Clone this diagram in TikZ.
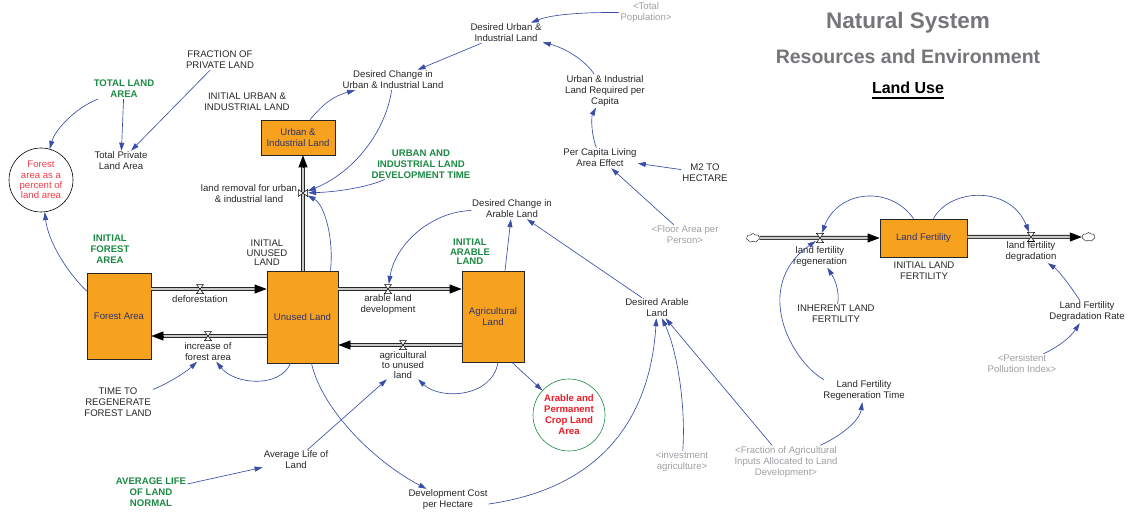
\documentclass[tikz,border=0pt]{standalone}
\usepackage{fontspec}
\setmainfont{Liberation Sans}
\usetikzlibrary{arrows.meta,calc,shapes.symbols,shadows}

\definecolor{stockfill}{RGB}{246,162,30}
\definecolor{linkblue}{RGB}{58,78,168}
\definecolor{varcol}{RGB}{40,40,40}
\definecolor{constgreen}{RGB}{28,138,68}
\definecolor{alertred}{RGB}{236,30,40}
\definecolor{softred}{RGB}{240,62,72}
\definecolor{shadowgray}{RGB}{160,160,165}
\definecolor{titlegray}{RGB}{118,118,122}
\definecolor{stocktext}{RGB}{45,50,110}
\definecolor{shadowvar}{RGB}{160,160,165}
\definecolor{pipefill}{RGB}{200,200,200}

\newcommand\varfnt{\fontsize{9.6}{11}\selectfont}
\newcommand\tightfnt{\fontsize{9.6}{9.6}\selectfont}

\begin{document}
\begin{tikzpicture}[x={(1pt,0)}, y={(0,-1pt)},
  var/.style={align=center, font=\varfnt, text=varcol, inner sep=1pt},
  tightvar/.style={var, font=\tightfnt},
  const/.style={var, font=\varfnt\bfseries, text=constgreen},
  ghost/.style={var, text=shadowvar},
  stock/.style={draw=black!85, fill=stockfill, line width=0.8pt, align=center,
    font=\varfnt, text=stocktext, inner sep=1pt,
    drop shadow={shadow xshift=1.3pt, shadow yshift=-1.3pt, fill=shadowgray, opacity=1}},
  valvept/.style={circle, inner sep=0pt, minimum size=10pt},
  pipe/.style={draw=black!85, line width=0.9pt, double=pipefill, double distance=2.2pt},
  pipetip/.style={draw=black, line width=0.8pt, -{Triangle[length=12pt,width=9pt]}},
  link/.style={draw=linkblue, line width=0.65pt, -{Triangle[length=8pt,width=5pt]}},
  valveline/.style={draw=black, fill=white, line width=0.5pt},
  sourcecloud/.style={cloud, cloud puffs=7, cloud puff arc=120, aspect=1.4, draw=black!80,
    line width=0.5pt, fill=white, minimum width=13pt, minimum height=9pt, inner sep=0pt},
  pics/vh/.style={code={\draw[valveline] (-3.5,-4.5) -- (3.5,-4.5) -- (-3.5,4.5) -- (3.5,4.5) -- cycle;}},
  pics/vv/.style={code={\draw[valveline] (-4.5,-3.5) -- (-4.5,3.5) -- (4.5,-3.5) -- (4.5,3.5) -- cycle;}}
]
\useasboundingbox (0,0) rectangle (1127,513);
\fill[white] (0,0) rectangle (1127,513);

% ---------- titles ----------
\node[font=\fontsize{22.5}{26}\selectfont\bfseries, text=titlegray] (ttlA) at (908,23) {Natural System};
\node[font=\fontsize{19.5}{23}\selectfont\bfseries, text=titlegray] (ttlB) at (908,57) {Resources and Environment};
\node[font=\fontsize{16}{19}\selectfont\bfseries, inner sep=0pt] (ttlC) at (908,88) {Land Use};
\draw[line width=1.6pt] ($(ttlC.base west)+(0,4)$) -- ($(ttlC.base east)+(0,4)$);

% ---------- stocks ----------
\node[stock, minimum width=74pt, minimum height=35pt] (ui) at (298,137.5) {Urban \&\\Industrial Land};
\node[stock, minimum width=64pt, minimum height=86pt] (fa) at (119,316) {Forest Area};
\node[stock, minimum width=71pt, minimum height=92pt] (ul) at (302.5,317) {Unused Land};
\node[stock, minimum width=62pt, minimum height=91pt] (al) at (493,316.5) {Agricultural\\Land};
\node[stock, minimum width=87pt, minimum height=38pt] (lf) at (923.5,238) {Land Fertility};

% ---------- valves and clouds ----------
\node[valvept] (vdef) at (200,289) {};
\node[valvept] (vifa) at (208,336) {};
\node[valvept] (vald) at (388,289) {};
\node[valvept] (vatu) at (403,345) {};
\node[valvept] (vlr)  at (303,193) {};
\node[valvept] (vlfr) at (820,238) {};
\node[valvept] (vlfd) at (1031,237) {};
\node[sourcecloud] (cA) at (753,238) {};
\node[sourcecloud] (cB) at (1088.5,237) {};

% ---------- pipes ----------
\coordinate (p1s) at (fa.east |- vdef); \coordinate (p1e) at (ul.west |- vdef);
\coordinate (p2s) at (ul.west |- vifa); \coordinate (p2e) at (fa.east |- vifa);
\coordinate (p3s) at (ul.east |- vald); \coordinate (p3e) at (al.west |- vald);
\coordinate (p4s) at (al.west |- vatu); \coordinate (p4e) at (ul.east |- vatu);
\coordinate (p5s) at (ul.north -| vlr); \coordinate (p5e) at (ui.south -| vlr);
\coordinate (p6s) at (cA.east);         \coordinate (p6e) at (lf.west |- cA);
\coordinate (p7s) at (lf.east |- cB);   \coordinate (p7e) at (cB.west);
\foreach \s/\e in {p1s/p1e,p2s/p2e,p3s/p3e,p4s/p4e,p5s/p5e,p6s/p6e,p7s/p7e}{
  \draw[pipe, shorten >=8pt] (\s) -- (\e);
  \draw[pipetip] ($(\e)!12pt!(\s)$) -- (\e);
}
\foreach \v in {vdef,vifa,vald,vatu,vlfr,vlfd}{\pic at (\v) {vh};}
\pic at (vlr) {vv};

% ---------- flow labels ----------
\node[var] (ldef) at (200,299) {deforestation};
\node[var] (lifa) at (208,351.5) {increase of\\forest area};
\node[var] (lald) at (388,304.5) {arable land\\development};
\node[tightvar] (latu) at (403,365) {agricultural\\to unused\\land};
\node[var] (llr) at (249,194) {land removal for urban\\\& industrial land};
\node[var] (llfr) at (820,256.5) {land fertility\\regeneration};
\node[var] (llfd) at (1031,252) {land fertility\\degradation};

% ---------- variables ----------
\node[var] (dui) at (506,33) {Desired Urban \&\\Industrial Land};
\node[ghost] (tpop) at (646,13) {\textless Total\\Population\textgreater};
\node[var] (dcui) at (393,80) {Desired Change in\\Urban \& Industrial Land};
\node[var] (uilr) at (605,91) {Urban \& Industrial\\Land Required per\\Capita};
\node[var] (pcla) at (600,158) {Per Capita Living\\Area Effect};
\node[var] (mtoh) at (705,173) {M2 TO\\HECTARE};
\node[ghost] (fap) at (685,235) {\textless Floor Area per\\Person\textgreater};
\node[var] (fpl) at (220,60) {FRACTION OF\\PRIVATE LAND};
\node[const] (tla) at (124,89) {TOTAL LAND\\AREA};
\node[var] (iuil) at (247,102) {INITIAL URBAN \&\\INDUSTRIAL LAND};
\node[var] (tpla) at (121,161) {Total Private\\Land Area};
\node[circle, draw=black, line width=0.6pt, minimum size=64pt, inner sep=0pt, align=center,
  font=\fontsize{9.6}{10.3}\selectfont, text=softred] (fcirc) at (41,180) {Forest\\area as a\\percent of\\land area};
\node[const] (uildt) at (421,164) {URBAN AND\\INDUSTRIAL LAND\\DEVELOPMENT TIME};
\node[const] (ifa) at (110,249) {INITIAL\\FOREST\\AREA};
\node[tightvar] (iul) at (267,253) {INITIAL\\UNUSED\\LAND};
\node[const, font=\tightfnt\bfseries] (ial) at (470,252) {INITIAL\\ARABLE\\LAND};
\node[var] (dcal) at (512,209) {Desired Change in\\Arable Land};
\node[var] (dal) at (657,308) {Desired Arable\\Land};
\node[var] (ttr) at (118,402) {TIME TO\\REGENERATE\\FOREST LAND};
\node[circle, draw=constgreen, line width=0.6pt, minimum size=72pt, inner sep=0pt, align=center,
  font=\varfnt\bfseries, text=alertred] (apcla) at (569,415) {Arable and\\Permanent\\Crop Land\\Area};
\node[var] (all) at (296,460) {Average Life of\\Land};
\node[const] (alln) at (151,492) {AVERAGE LIFE\\OF LAND\\NORMAL};
\node[var] (dcph) at (448,500) {Development Cost\\per Hectare};
\node[ghost] (inva) at (682,462) {\textless investment\\agriculture\textgreater};
\node[ghost] (faia) at (786,462) {\textless Fraction of Agricultural\\Inputs Allocated to Land\\Development\textgreater};
\node[var] (lfrt) at (864,391) {Land Fertility\\Regeneration Time};
\node[var] (ilf) at (836,314) {INHERENT LAND\\FERTILITY};
\node[var] (inlf) at (924,271) {INITIAL LAND\\FERTILITY};
\node[var] (lfdr) at (1087,312) {Land Fertility\\Degradation Rate};
\node[ghost] (ppi) at (1022,364) {\textless Persistent\\Pollution Index\textgreater};

% ---------- information links ----------
\draw[link] (tpop) .. controls (580,12) and (550,15) .. (dui);
\draw[link] (dui) -- (dcui);
\draw[link] (uilr) .. controls (585,60) and (565,48) .. (dui);
\draw[link] (pcla) .. controls (590,130) and (592,115) .. (uilr);
\draw[link] (mtoh) -- (pcla);
\draw[link] (fap) -- (pcla);
\draw[link] ($(ui.north)+(12,0)$) .. controls (320,108) and (330,97) .. (dcui);
\draw[link] (dcui) .. controls (386,130) and (355,172) .. (vlr);
\draw[link] (uildt) .. controls (365,188) and (335,192) .. (vlr);
\draw[link] ($(ul.north)+(28,0)$) .. controls (334,240) and (325,205) .. (vlr);
\draw[link] (tla) .. controls (75,108) and (55,130) .. (fcirc);
\draw[link] (tla) -- (tpla);
\draw[link] (fpl) -- (tpla);
\draw[link] ($(fa.west)+(0,-25)$) .. controls (65,270) and (48,240) .. (fcirc);
\draw[link] ($(ul.south)+(-12,0)$) .. controls (280,388) and (235,385) .. (lifa);
\draw[link] (ttr) .. controls (165,385) and (185,373) .. (lifa);
\draw[link] (dcal) .. controls (430,212) and (395,245) .. (vald);
\draw[link] ($(al.north)+(12,0)$) -- (dcal);
\draw[link] (dal) -- (dcal);
\draw[link] ($(al.south)+(5,0)$) .. controls (492,398) and (440,400) .. (latu);
\draw[link] ($(al.south)+(19,0)$) -- (apcla);
\draw[link] (all) -- (latu);
\draw[link] (alln) -- (all);
\draw[link] ($(ul.south)+(9,0)$) .. controls (322,410) and (375,462) .. (dcph);
\draw[link] ($(dcph.east)+(0,4)$) .. controls (600,488) and (650,420) .. (dal);
\draw[link] (inva) .. controls (686,405) and (677,350) .. (dal);
\draw[link] (faia) -- (dal);
\draw[link] (faia) .. controls (848,432) and (860,418) .. (lfrt);
\draw[link] ($(lfrt.north)+(-40,0)$) .. controls (790,360) and (752,286) .. (vlfr);
\draw[link] (ilf) .. controls (840,290) and (834,278) .. (llfr);
\draw[link] ($(lf.north)+(-10,0)$) .. controls (890,185) and (838,190) .. (vlfr);
\draw[link] ($(lf.north)+(10,0)$) .. controls (950,188) and (1010,185) .. (vlfd);
\draw[link] (lfdr) .. controls (1070,285) and (1058,270) .. (llfd);
\draw[link] (ppi) .. controls (1062,345) and (1072,335) .. (lfdr);
\end{tikzpicture}
\end{document}
